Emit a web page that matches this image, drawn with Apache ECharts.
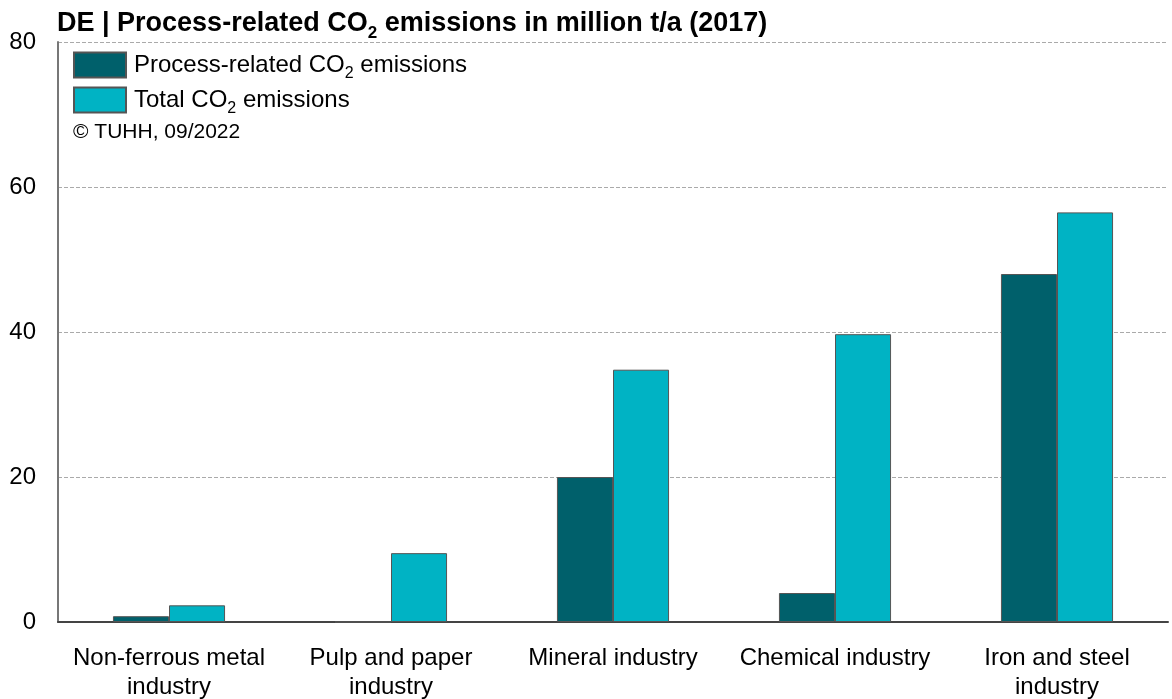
<!DOCTYPE html>
<html>
<head>
<meta charset="utf-8">
<title>DE | Process-related CO2 emissions</title>
<script src="https://cdn.jsdelivr.net/npm/echarts@6/dist/echarts.min.js"></script>
<style>
  html, body { margin: 0; padding: 0; background: #ffffff; overflow: hidden; }
  #chart { width: 1172px; height: 699px; }
</style>
</head>
<body>
<div id="chart"></div>
<script>
// Sectors (x-axis categories)
const categories = [
  'Non-ferrous metal\nindustry',
  'Pulp and paper\nindustry',
  'Mineral industry',
  'Chemical industry',
  'Iron and steel\nindustry'
];
// Emissions in million t/a (2017)
const processCO2 = [0.8, 0, 20.0, 4.0, 48.0];
const totalCO2 = [2.3, 9.5, 34.8, 39.7, 56.5];
// Value axis ticks
const yTicks = [0, 20, 40, 60, 80];

const seriesNames = ['Process-related CO2 emissions', 'Total CO2 emissions'];
const FONT = '"Liberation Sans", Arial, sans-serif';

const chart = echarts.init(document.getElementById('chart'), null, { renderer: 'canvas' });

// Subscript token: small text pinned to the bottom of a taller line
const subStyle = (size, weight) => ({
  fontSize: size,
  fontWeight: weight,
  fontFamily: FONT,
  color: '#000',
  verticalAlign: 'bottom',
  lineHeight: size
});

chart.setOption({
  animation: false,
  backgroundColor: '#ffffff',
  title: {
    text: 'DE | Process-related CO{sub|2} emissions in million t/a (2017)',
    left: 57,
    top: 6,
    padding: 0,
    textStyle: {
      fontSize: 27,
      fontWeight: 'bold',
      fontFamily: FONT,
      color: '#000',
      lineHeight: 36,
      rich: { sub: subStyle(17, 'bold') }
    }
  },
  legend: {
    orient: 'vertical',
    left: 73,
    top: 48,
    padding: 0,
    itemWidth: 52,
    itemHeight: 25,
    itemGap: 1,
    icon: 'rect',
    selectedMode: false,
    formatter: name => name.replace('CO2', 'CO{sub|2}'),
    textStyle: {
      fontSize: 24,
      fontFamily: FONT,
      color: '#000',
      lineHeight: 34,
      padding: [0, 0, 0, 3],
      rich: { sub: subStyle(16, 'normal') }
    },
    data: seriesNames
  },
  graphic: [{
    type: 'text',
    left: 73,
    top: 122,
    style: {
      text: '\u00A9 TUHH, 09/2022',
      fontSize: 21,
      fontFamily: FONT,
      fill: '#000'
    }
  }],
  grid: {
    left: 58,
    right: 4,
    top: 42,
    bottom: 77,
    containLabel: false,
    outerBoundsMode: 'none'
  },
  xAxis: {
    type: 'category',
    data: categories,
    axisTick: { show: false },
    axisLine: { show: true, lineStyle: { color: '#444', width: 2 } },
    axisLabel: {
      fontSize: 24,
      fontFamily: FONT,
      color: '#000',
      lineHeight: 29,
      margin: 22,
      interval: 0
    },
    splitLine: { show: false }
  },
  yAxis: {
    type: 'value',
    min: yTicks[0],
    max: yTicks[yTicks.length - 1],
    interval: yTicks[1] - yTicks[0],
    axisLine: { show: true, lineStyle: { color: '#777', width: 2 } },
    axisTick: { show: false },
    axisLabel: {
      fontSize: 24,
      fontFamily: FONT,
      color: '#000',
      margin: 22
    },
    splitLine: {
      show: true,
      lineStyle: { color: '#aaa', width: 1, type: [4, 2] }
    }
  },
  series: [
    {
      name: seriesNames[0],
      type: 'bar',
      data: processCO2,
      barGap: '0%',
      barCategoryGap: '49.5%',
      itemStyle: { color: '#00606B', borderColor: '#555', borderWidth: 1 }
    },
    {
      name: seriesNames[1],
      type: 'bar',
      data: totalCO2,
      barGap: '0%',
      barCategoryGap: '49.5%',
      itemStyle: { color: '#00B3C4', borderColor: '#555', borderWidth: 1 }
    }
  ]
});
</script>
</body>
</html>
